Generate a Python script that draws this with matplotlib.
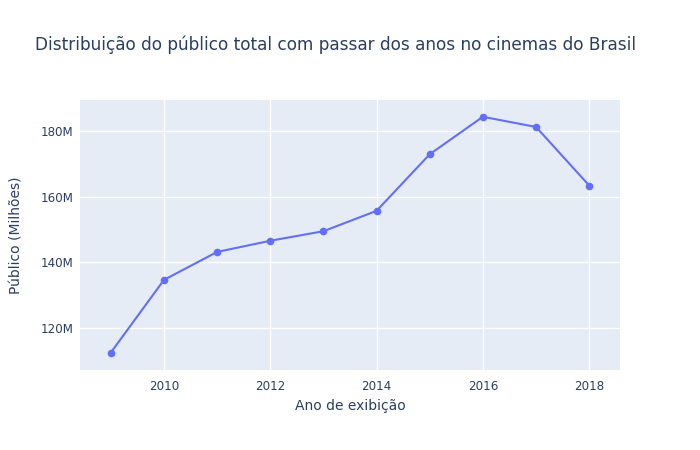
import matplotlib.pyplot as plt
from matplotlib.ticker import FuncFormatter

anos = [2009, 2010, 2011, 2012, 2013, 2014, 2015, 2016, 2017, 2018]
publico_milhoes = [112.6, 134.7, 143.2, 146.6, 149.5, 155.7, 172.9, 184.3, 181.2, 163.4]

titulo = "Distribuição do público total com passar dos anos no cinemas do Brasil"
x_label = "Ano de exibição"
y_label = "Público (Milhões)"

plt.rcParams['font.family'] = ['DejaVu Sans']
TEXT = '#2a3f5f'

fig = plt.figure(figsize=(7, 4.5), dpi=100)
ax = fig.add_axes([80 / 700, 80 / 450, 540 / 700, 270 / 450])
ax.set_facecolor('#E5ECF6')

ax.plot(anos, publico_milhoes, color='#636EFA', linewidth=1.5,
        marker='o', markersize=4.5, zorder=3)

ax.set_xlim(2008.42, 2018.58)
ax.set_ylim(107.3, 189.4)
ax.set_xticks([2010, 2012, 2014, 2016, 2018])
ax.set_yticks([120, 140, 160, 180])
ax.yaxis.set_major_formatter(FuncFormatter(lambda v, p: f"{v:.0f}M"))

ax.grid(True, color='white', linewidth=1)
ax.set_axisbelow(True)
for s in ax.spines.values():
    s.set_visible(False)
ax.tick_params(length=0, labelsize=8.6, labelcolor=TEXT)
ax.tick_params(axis='x', pad=7)
ax.tick_params(axis='y', pad=5)

fig.text(35 / 700, 1 - 45 / 450, titulo, fontsize=12.2, color=TEXT, va='center', ha='left')
fig.text(350 / 700, 1 - 406 / 450, x_label, fontsize=10, color=TEXT, va='center', ha='center')
fig.text(17 / 700, 1 - 235 / 450, y_label, fontsize=10, color=TEXT, va='center', ha='center',
         rotation=90)

fig.savefig('out.png', dpi=100)
